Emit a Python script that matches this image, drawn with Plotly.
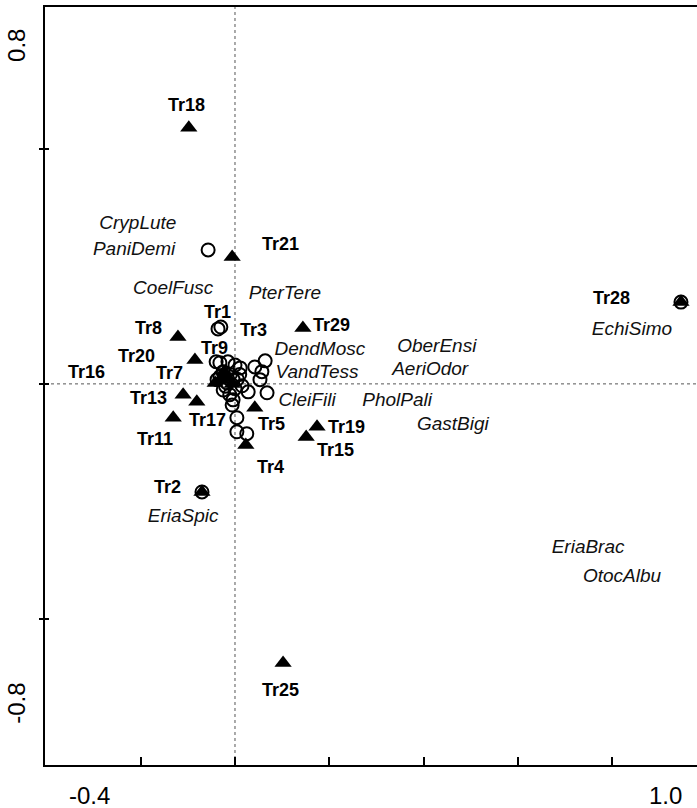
import plotly.graph_objects as go

# Site scores (triangles)
site_names = ["Tr1", "Tr2", "Tr3", "Tr4", "Tr5", "Tr7", "Tr8", "Tr9", "Tr11", "Tr13",
              "Tr15", "Tr16", "Tr17", "Tr18", "Tr19", "Tr20", "Tr21", "Tr25", "Tr28", "Tr29"]
site_x = [-0.023, -0.070, -0.006, 0.023, 0.042, -0.085, -0.121, -0.015, -0.131, -0.110,
          0.151, -0.042, -0.081, -0.098, 0.174, -0.032, -0.006, 0.102, 0.946, 0.144]
site_y = [0.026, -0.230, 0.000, -0.130, -0.051, 0.051, 0.100, 0.013, -0.072, -0.023,
          -0.113, 0.002, -0.038, 0.545, -0.091, 0.009, 0.270, -0.594, 0.174, 0.119]

# Species shown as open circles
circle_x = [-0.057, -0.036, -0.030, -0.032, -0.015, 0.000, 0.011, 0.042, 0.064, 0.057,
            0.053, 0.068, 0.028, 0.015, -0.004, -0.017, -0.025, -0.011, -0.004, -0.006,
            0.004, 0.004, 0.025, -0.032, -0.025, -0.038, -0.040, -0.010, 0.005, -0.020,
            0.000, 0.010, -0.070, 0.946]
circle_y = [0.285, 0.117, 0.121, 0.045, 0.047, 0.040, 0.034, 0.036, 0.049, 0.026,
            0.009, -0.019, -0.017, -0.004, 0.009, 0.002, -0.013, -0.023, -0.034, -0.045,
            -0.072, -0.102, -0.106, 0.015, 0.026, 0.009, 0.047, 0.020, 0.010, -0.005,
            -0.010, 0.020, -0.230, 0.174]

# Species shown by name only
species_names = ["CrypLute", "PaniDemi", "CoelFusc", "PterTere", "DendMosc", "VandTess",
                 "OberEnsi", "AeriOdor", "CleiFili", "PholPali", "GastBigi", "EchiSimo",
                 "EriaBrac", "OtocAlbu", "EriaSpic"]
species_x = [-0.206, -0.214, -0.131, 0.106, 0.180, 0.174, 0.428, 0.414, 0.153, 0.344,
             0.462, 0.842, 0.749, 0.821, -0.110]
species_y = [0.340, 0.285, 0.202, 0.191, 0.072, 0.023, 0.077, 0.028, -0.038, -0.038,
             -0.087, 0.115, -0.349, -0.411, -0.283]

# Axis end labels
x_end_labels = ["-0.4", "1.0"]
y_end_labels = ["0.8", "-0.8"]

# Pixel offsets of each site label from its triangle (right, down)
LABEL_OFFSETS = {
    "Tr1": (-7, -60), "Tr2": (-34, -5), "Tr3": (21, -54), "Tr4": (25, 22),
    "Tr5": (17, 16), "Tr7": (-25, 13), "Tr8": (-29, -9), "Tr9": (-13, -30),
    "Tr11": (-18, 21), "Tr13": (-35, 3), "Tr15": (29, 13), "Tr16": (-129, -11),
    "Tr17": (11, 18), "Tr18": (-2, -23), "Tr19": (29, 0), "Tr20": (-83, -24),
    "Tr21": (48, -13), "Tr25": (-3, 27), "Tr28": (-69, -4), "Tr29": (29, -3),
}

FONT = "Liberation Sans, Arial, Helvetica, sans-serif"
X_RANGE = [-0.403, 0.980]
Y_RANGE = [-0.811, 0.802]

fig = go.Figure()

fig.add_trace(go.Scatter(
    x=circle_x, y=circle_y, mode="markers", hoverinfo="skip",
    marker=dict(symbol="circle-open", size=13, color="black",
                line=dict(width=2, color="black")),
))

fig.add_trace(go.Scatter(
    x=site_x, y=site_y, mode="markers", hoverinfo="skip",
    marker=dict(symbol="triangle-up", size=15, color="black",
                line=dict(width=0)),
))

fig.add_trace(go.Scatter(
    x=species_x, y=species_y, mode="text", text=species_names,
    textposition="middle center", hoverinfo="skip",
    textfont=dict(family=FONT, size=19, color="#111", style="italic"),
))

annotations = []
for name, sx, sy in zip(site_names, site_x, site_y):
    dx, dy = LABEL_OFFSETS[name]
    annotations.append(dict(
        x=sx, y=sy, xref="x", yref="y", text=name, showarrow=False,
        xshift=dx, yshift=-dy, xanchor="center", yanchor="middle",
        font=dict(family=FONT, size=18, color="black", weight="bold"),
    ))

# Axis end values, placed inside the ends of each axis
for txt, xv, shift in zip(x_end_labels, [0.0, 1.0], [44, -32]):
    annotations.append(dict(
        x=xv, y=0, xref="paper", yref="paper", text=txt, showarrow=False,
        xanchor="center", yanchor="middle", xshift=shift, yshift=-30,
        font=dict(family=FONT, size=24, color="black"),
    ))
for txt, yv, shift in zip(y_end_labels, [0.8, -0.8], [-38, 56]):
    annotations.append(dict(
        x=0, y=yv, xref="paper", yref="y", text=txt, showarrow=False,
        textangle=-90, xanchor="center", yanchor="middle", xshift=-28, yshift=shift,
        font=dict(family=FONT, size=24, color="black"),
    ))

shapes = [
    dict(type="line", xref="x", yref="y domain", x0=0, x1=0, y0=0, y1=1,
         line=dict(color="#555", width=1, dash="dot"), layer="below"),
    dict(type="line", xref="x domain", yref="y", x0=0, x1=1, y0=0, y1=0,
         line=dict(color="#555", width=1, dash="dot"), layer="below"),
]

fig.update_layout(
    width=697, height=808, autosize=False,
    margin=dict(l=45, r=0, t=7, b=43),
    paper_bgcolor="white", plot_bgcolor="white",
    showlegend=False,
    annotations=annotations, shapes=shapes,
    xaxis=dict(range=X_RANGE, showgrid=False, zeroline=False,
               showline=True, linecolor="black", linewidth=2, mirror=True,
               tickmode="array", tickvals=[-0.2, 0, 0.2, 0.4, 0.6, 0.8],
               ticks="inside", ticklen=8, tickwidth=2, tickcolor="black",
               showticklabels=False),
    yaxis=dict(range=Y_RANGE, showgrid=False, zeroline=False,
               showline=True, linecolor="black", linewidth=2, mirror=False,
               tickmode="array", tickvals=[-0.5, 0, 0.5],
               ticks="outside", ticklen=4, tickwidth=2, tickcolor="black",
               showticklabels=False,
               minor=dict(tickmode="array", tickvals=[-0.5, 0, 0.5],
                          ticks="inside", ticklen=4, tickwidth=2,
                          tickcolor="black")),
)

fig.write_html("out.html")
